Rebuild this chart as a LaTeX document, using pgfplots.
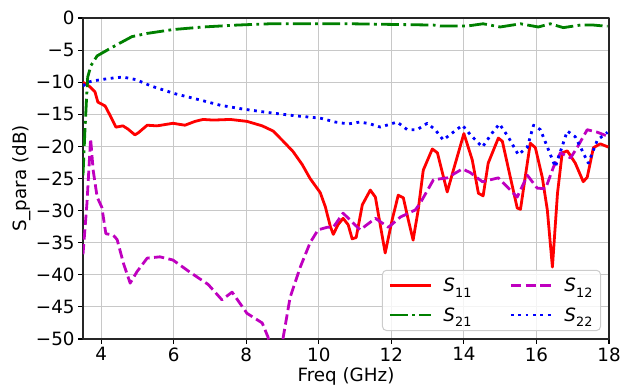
\documentclass[border=0pt]{standalone}
\usepackage{fontspec}
\setmainfont{DejaVu Sans}
\usepackage{pgfplots}
\pgfplotsset{compat=1.18}
\definecolor{mplgreen}{rgb}{0,0.5,0}
\definecolor{mplmag}{rgb}{0.75,0,0.75}
\definecolor{gridc}{RGB}{200,200,200}
\newcommand{\Sp}[1]{\textit{S}\kern0.3pt\raisebox{-0.28em}{\fontsize{12.8}{13}\selectfont #1}}
\begin{document}
\begin{tikzpicture}
\useasboundingbox (-83pt,-50pt) rectangle (538pt,339pt);
\begin{axis}[
  at={(0pt,0pt)}, anchor=south west,
  scale only axis, width=526pt, height=321pt,
  xmin=3.5, xmax=18, ymin=-50, ymax=0,
  xtick={4,6,8,10,12,14,16,18},
  xticklabels={4,6,8,10,12,14,16,18},
  ytick={-50,-45,-40,-35,-30,-25,-20,-15,-10,-5,0},
  yticklabels={−50,−45,−40,−35,−30,−25,−20,−15,−10,−5,0},
  xtick pos=left, ytick pos=left,
  tick align=outside,
  major tick length=4.9pt,
  tick style={black, line width=1.1pt},
  axis line style={black!85, line width=1.1pt},
  grid=major,
  major grid style={gridc, line width=1.1pt},
  font=\fontsize{18.3}{22}\selectfont,
  ticklabel style={font=\fontsize{18.3}{22}\selectfont},
  /pgf/number format/assume math mode=true,
  xlabel={Freq (GHz)},
  ylabel={S\_para (dB)},
  every axis x label/.style={at={(axis description cs:0.5,-0.118)}, anchor=center},
  every axis y label/.style={at={(axis description cs:-0.116,0.5)}, rotate=90, anchor=center},
  legend columns=2,
  transpose legend,
  legend image code/.code={\draw[#1] (0pt,0pt) -- (41pt,0pt);},
  legend style={at={(1,0)}, anchor=south east, xshift=-8pt, yshift=8pt,
    draw=gray!40, line width=1pt, rounded corners=4pt, fill=white, fill opacity=0.8, text opacity=1,
    font=\fontsize{18.3}{22}\selectfont,
    nodes={inner sep=2pt},
    /tikz/every odd column/.append style={column sep=9pt},
    /tikz/every even column/.append style={column sep=36pt},
    row sep=10pt, inner xsep=6pt, inner ysep=6pt},
  legend cell align=left,
  line join=round,
]
\addplot[red, line width=2.8pt] coordinates {
(3.50,-10.0) (3.69,-10.7) (3.83,-11.5) (3.91,-13.1) (4.11,-13.7) (4.24,-15.1) (4.41,-17.0) (4.60,-16.8) (4.74,-17.3) (4.93,-18.2) (5.02,-17.9) (5.27,-16.7) (5.54,-16.8) (5.98,-16.4) (6.31,-16.7) (6.59,-16.1) (6.81,-15.8) (7.09,-15.9) (7.56,-15.8) (8.02,-16.1) (8.44,-16.8) (8.74,-17.6) (9.02,-19.2) (9.29,-20.8) (9.54,-22.8) (9.76,-25.0) (10.04,-27.2) (10.18,-29.4) (10.32,-32.5) (10.40,-33.7) (10.53,-32.2) (10.67,-31.2) (10.81,-32.2) (10.92,-34.4) (11.03,-34.2) (11.20,-29.1) (11.42,-26.8) (11.56,-27.9) (11.83,-36.6) (12.02,-31.5) (12.19,-27.6) (12.33,-28.0) (12.47,-31.5) (12.60,-34.6) (12.74,-29.9) (12.88,-23.7) (13.13,-20.4) (13.27,-21.0) (13.54,-27.1) (13.71,-23.7) (14.00,-18.0) (14.23,-22.1) (14.40,-27.3) (14.53,-27.7) (14.67,-22.6) (14.95,-18.7) (15.06,-19.2) (15.28,-24.8) (15.47,-29.6) (15.56,-29.8) (15.69,-24.8) (15.83,-19.5) (15.97,-20.2) (16.16,-24.8) (16.30,-29.9) (16.44,-38.8) (16.58,-27.3) (16.71,-21.0) (16.85,-20.7) (17.07,-22.6) (17.29,-25.5) (17.40,-24.8) (17.57,-20.2) (17.76,-19.6) (17.98,-20.1)
};
\addlegendentry{\Sp{11}}
\addplot[mplgreen, line width=2.8pt, dash pattern=on 17.8pt off 4.4pt on 2.8pt off 4.4pt] coordinates {
(3.50,-24.5) (3.55,-17.9) (3.60,-12.3) (3.63,-9.2) (3.72,-7.4) (3.89,-5.9) (4.20,-4.9) (4.52,-3.9) (4.85,-2.9) (5.27,-2.4) (5.98,-1.8) (6.81,-1.4) (7.75,-1.1) (8.66,-0.9) (10.87,-0.9) (13.16,-1.1) (13.35,-1.25) (14.09,-1.25) (14.53,-0.9) (15.00,-1.4) (15.56,-0.9) (16.05,-1.4) (16.38,-0.9) (16.74,-1.5) (17.21,-1.1) (17.57,-1.1) (17.96,-1.3)
};
\addlegendentry{\Sp{21}}
\addplot[mplmag, line width=2.8pt, dash pattern=on 10.3pt off 4.4pt] coordinates {
(3.50,-36.8) (3.61,-28.8) (3.71,-18.8) (3.78,-23.7) (3.89,-27.9) (4.02,-29.5) (4.13,-33.6) (4.33,-33.8) (4.44,-34.5) (4.62,-38.3) (4.80,-41.3) (4.99,-39.5) (5.27,-37.4) (5.62,-37.2) (5.98,-37.7) (6.45,-39.6) (6.95,-41.5) (7.33,-43.9) (7.61,-42.7) (8.02,-46.0) (8.44,-47.5) (8.60,-49.7) (8.75,-53) (8.85,-56) (8.95,-53) (9.02,-49.7) (9.21,-43.5) (9.49,-38.8) (9.76,-35.0) (9.98,-33.0) (10.23,-32.6) (10.40,-32.6) (10.67,-30.4) (10.87,-31.5) (11.14,-33.0) (11.56,-31.2) (11.92,-32.6) (12.25,-31.0) (12.66,-29.9) (12.80,-28.8) (13.16,-25.2) (13.54,-24.9) (13.96,-23.5) (14.18,-24.1) (14.51,-25.5) (14.95,-24.9) (15.14,-26.0) (15.47,-27.9) (15.75,-24.5) (16.02,-26.5) (16.25,-26.6) (16.47,-23.2) (16.66,-21.0) (16.94,-21.8) (17.13,-20.1) (17.40,-17.4) (17.68,-17.8) (17.96,-18.4)
};
\addlegendentry{\Sp{12}}
\addplot[blue, line width=2.8pt, dash pattern=on 2.8pt off 4.6pt] coordinates {
(3.50,-10.6) (3.61,-10.0) (3.89,-9.7) (4.24,-9.4) (4.60,-9.2) (4.96,-9.6) (5.38,-10.6) (6.04,-11.8) (6.75,-12.8) (7.29,-13.6) (7.93,-14.2) (8.57,-14.7) (9.30,-15.2) (10.04,-15.6) (10.45,-16.2) (10.81,-16.5) (11.14,-16.2) (11.42,-16.5) (11.70,-17.0) (12.16,-16.2) (12.44,-17.4) (12.71,-17.4) (12.99,-16.4) (13.21,-17.4) (13.43,-19.0) (13.68,-17.9) (13.96,-16.7) (14.18,-18.2) (14.51,-20.1) (14.78,-17.9) (14.98,-16.5) (15.22,-18.5) (15.50,-21.3) (15.75,-20.1) (15.92,-16.7) (16.11,-17.4) (16.52,-23.2) (16.85,-17.6) (17.07,-18.5) (17.43,-22.6) (17.68,-19.0) (17.96,-17.8)
};
\addlegendentry{\Sp{22}}
\end{axis}
\end{tikzpicture}
\end{document}
